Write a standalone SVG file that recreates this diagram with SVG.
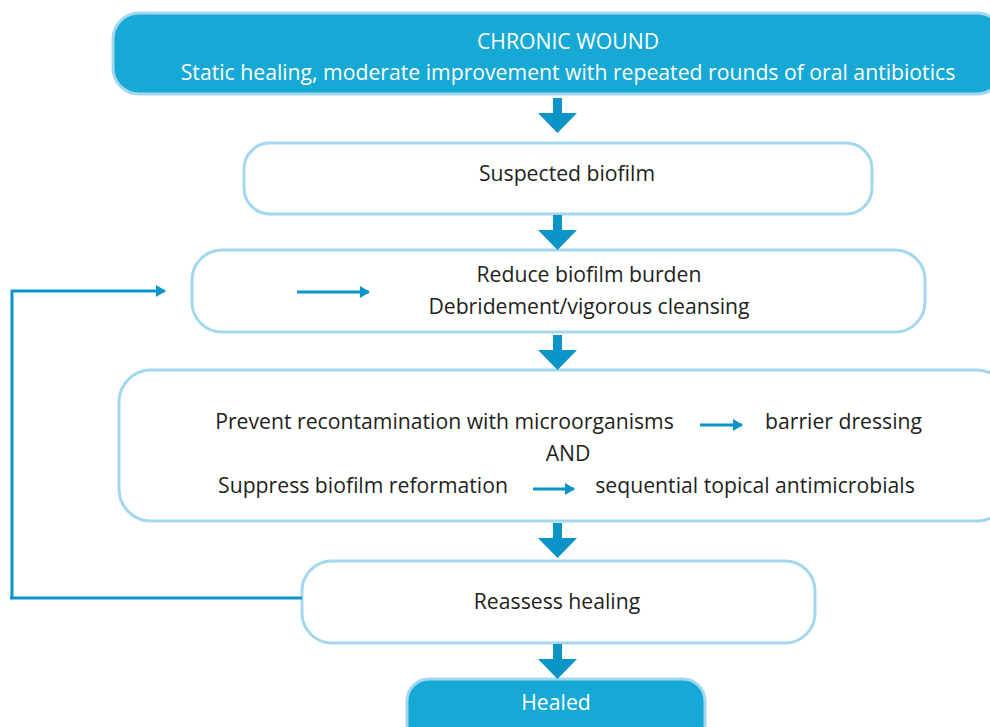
<svg xmlns="http://www.w3.org/2000/svg" width="990" height="727" viewBox="0 0 990 727">
<defs>
<style>
.box{fill:#ffffff;stroke:#a3d7ef;stroke-width:3}
.dark{fill:#16a9d5;stroke:#a3d7ef;stroke-width:3}
.t{font-family:"Open Sans","Noto Sans","Liberation Sans",sans-serif;font-size:21.2px;fill:#231f20;text-anchor:middle}
.w{fill:#ffffff}
.ln{stroke:#0a94c8;stroke-width:3;fill:none}
.big{fill:#0a94c8}
</style>
<marker id="ah" markerWidth="10" markerHeight="12" refX="9" refY="6" orient="auto" markerUnits="userSpaceOnUse">
<path d="M0,0 L10,6 L0,12 Z" fill="#0a94c8"/>
</marker>
<path id="down" d="M-4.5,0 H4.5 V15 H19.5 L0,35 L-19.5,15 H-4.5 Z"/>
</defs>
<g id="chronic">
<rect class="dark" x="113" y="13" width="890" height="81" rx="26"/>
<text class="t w" x="568" y="49">CHRONIC WOUND</text>
<text class="t w" x="568" y="80">Static healing, moderate improvement with repeated rounds of oral antibiotics</text>
</g>
<g id="suspected">
<rect class="box" x="244" y="143" width="628" height="71" rx="26"/>
<text class="t" x="567" y="181">Suspected biofilm</text>
</g>
<g id="reduce">
<rect class="box" x="192" y="250" width="733" height="82" rx="30"/>
<text class="t" x="589" y="282">Reduce biofilm burden</text>
<text class="t" x="589" y="314">Debridement/vigorous cleansing</text>
</g>
<g id="prevent">
<rect class="box" x="119" y="370" width="890" height="151" rx="32"/>
<text class="t" x="444.5" y="429">Prevent recontamination with microorganisms</text>
<text class="t" x="843.5" y="429">barrier dressing</text>
<text class="t" x="568" y="461">AND</text>
<text class="t" x="363" y="493">Suppress biofilm reformation</text>
<text class="t" x="755" y="493">sequential topical antimicrobials</text>
</g>
<g id="reassess">
<rect class="box" x="302" y="561" width="513" height="82" rx="30"/>
<text class="t" x="557" y="609">Reassess healing</text>
</g>
<g id="healed">
<rect class="dark" x="407" y="679" width="298" height="70" rx="22"/>
<text class="t w" x="556" y="710">Healed</text>
</g>
<g id="connectors">
<use href="#down" class="big" x="557.5" y="98"/>
<use href="#down" class="big" x="557.5" y="215"/>
<use href="#down" class="big" x="557.5" y="335"/>
<use href="#down" class="big" x="557.5" y="523"/>
<use href="#down" class="big" x="557.5" y="644"/>
<path class="ln" d="M302,598 H10 M12,598 V291 H165" marker-end="url(#ah)"/>
<path class="ln" d="M297,292 H369" marker-end="url(#ah)"/>
<path class="ln" d="M700,425 H742" marker-end="url(#ah)"/>
<path class="ln" d="M533,489 H574" marker-end="url(#ah)"/>
</g>
</svg>
